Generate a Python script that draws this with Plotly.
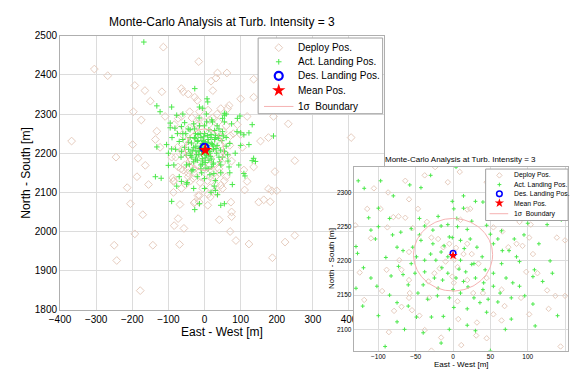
import numpy as np
import plotly.graph_objects as go

# ---------------- data: main plot ----------------
main_deploy_x = [-305,-268,-114,-16,62,-193,-165,-118,-150,-197,-175,-368,-245,-199,-184,-164,-187,-155,-214,
                 136,165,136,100,68,64,118,191,232,250,406,155,177,195,136,109,118,18,32,36,23,-64,-59,-45,-27,
                 -20,-14,-41,-64,-84,-109,-132,-136,-123,-73,-91,-73,-59,-45,-32,-86,45,91,100,105,
                 -205,-171,-193,-250,-143,-243,-178,-68,-73,-84,-57,-69,-27,-18,-88,
                 16,-14,9,-15,-29,41,73,75,75,71,87,123,111,150,164,182,186,200,188,223,250,16,32,-86,-64,177,10,45,
                 -50,-40,-30,-60,-20,0,25,45,55,40,15,-10,-45,-65,-70,-35,10,35,60,70,
                 75,60,30,-5,-30,-15,10,25,15,-20,-35,35,0,-5,20,-25,-80,80,-85,50,
                 -55,-48,-38,-58,42,52,48,30,-12,8,-42,38,22,-22,62,-62,5,-8,14,-16,
                 -75,72,-52,55,-28,28,-45,45,-18,18]
main_deploy_y = [2415,2398,2471,2434,2405,2373,2360,2357,2333,2306,2285,2231,2190,2222,2187,2169,2140,2120,2112,
                 2389,2397,2343,2339,2322,2314,2294,2294,2275,2181,2240,2231,2240,2153,2165,2157,2128,2384,2392,2405,2360,2365,2357,2351,2343,
                 2335,2306,2306,2294,2273,2294,2256,2235,2215,2289,2190,2165,2157,2149,2136,2128,2314,2273,2248,2215,
                 2071,2043,1994,1965,1965,1926,1849,2069,2033,2015,2008,1967,2075,2092,2137,
                 2088,2092,2067,2075,2073,2030,2075,2050,2038,2000,1977,1968,2106,2075,2081,2076,2104,2104,1933,1973,1990,2112,2100,2100,2110,2109,2095,2118,
                 2230,2180,2150,2200,2270,2280,2265,2240,2200,2160,2140,2140,2140,2160,2260,2290,2310,2300,2270,2220,
                 2180,2140,2120,2110,2190,2240,2250,2200,2170,2170,2230,2210,2225,2190,2230,2205,2190,2250,2130,2110,
                 2170,2160,2130,2245,2150,2255,2175,2140,2125,2130,2265,2280,2290,2275,2195,2210,2160,2262,2285,2290,
                 2215,2245,2120,2130,2160,2150,2195,2222,2210,2185]

main_land_x = [-168,-132,-123,-91,-77,-95,-27,7,9,-14,55,50,91,132,100,123,191,136,141,112,68,77,27,-136,-120,
               -132,-105,-82,-64,-91,-100,-64,-91,-27,-14,55,36,18,-50,-77,132,109,45,109,123,98,55,
               -60,-45,-30,-15,5,20,35,50,60,70,-70,-55,-40,-25,-10,10,25,40,55,65,
               -50,-35,-20,0,15,30,45,-65,-80,-75,-20,-10,0,10,20,30,-30,-15,5,15,
               25,35,-5,-25,40,-40,-5,20,-35,45,-12,8,-8,12,-18,18,-28,28,-45,48,
               -55,55,-85,85,-90,90,-5,0,70,-70,-100,100,-60,60,30,-30,95,-95,75,-48,
               -3,3,-6,6,-2,2,-14,14,-22,22,
               -8,6,-4,10,-16,16,-24,24,-2,2,-34,34,-12,12,-20,20,-40,40,-50,50,
               0,-6,28,-28,8,-42,42,-60,60,0,
               -36,-30,-26,-18,-10,-4,4,12,18,26,32,38,-38,-32,-14,-6,6,14,22,30,
               -44,-8,44,-52,52,-64,64,-24,24,2]
main_land_y = [2484,2321,2306,2318,2297,2277,2365,2339,2331,2318,2302,2289,2289,2273,2252,2252,2244,2187,2179,2142,2165,2120,2116,2140,2136,
               2216,2222,2264,2268,2211,2169,2128,2077,2056,2071,2071,2094,2100,2121,2116,2181,2148,2067,2247,2222,2295,2297,
               2250,2262,2275,2290,2300,2285,2270,2255,2240,2225,2230,2215,2200,2185,2170,2160,2175,2190,2205,2180,
               2170,2155,2140,2135,2145,2130,2150,2190,2210,2250,2230,2240,2250,2235,2225,2240,2215,2205,2195,2200,
               2210,2220,2225,2250,2245,2240,2180,2185,2190,2170,2215,2220,2198,2212,2232,2248,2262,2258,2228,2232,
               2278,2280,2170,2200,2240,2255,2315,2110,2150,2140,2200,2220,2300,2300,2105,2110,2170,2265,2275,2125,
               2205,2215,2225,2195,2230,2188,2212,2205,2196,2222,
               2208,2204,2222,2228,2196,2192,2218,2218,2242,2176,2206,2200,2250,2260,2182,2165,2260,2262,2195,2190,
               2200,2186,2235,2240,2245,2172,2178,2235,2218,2270,
               2226,2178,2238,2248,2160,2232,2162,2182,2240,2148,2212,2238,2194,2158,2270,2172,2280,2205,2280,2246,
               2210,2150,2208,2250,2244,2205,2196,2206,2172,2226]

main_des = (0, 2214)
main_mean = (2, 2208)
main_sigma_center = (0, 2209)
main_sigma_radius = 53

# ---------------- data: inset plot ----------------
ins_deploy_x = [-24,-7,9,-38,-64,-106,-87,-115,-97,-80,-73,-64,-59,-47,-131,-110,-88,-54,-35,-29,-20,-13,-5,
                -125,-89,-95,-119,-72,-59,-69,-59,-58,-59,-79,-69,-55,-45,-86,-29,-38,-32,-33,-25,-18,-10,2,6,-1,1,6,7,
                -16,11,32,31,45,4,14,19,25,34,19,27,40,45,54,66,74,85,102,104,89,93,107,98,113,126,137,128,150,150,139,
                65,69,65,54,102,91,144,45,87,115,19,23,10]
ins_deploy_y = [2337,2315,2330,2325,2317,2306,2300,2276,2276,2264,2265,2263,2290,2276,2252,2233,2249,2248,2257,2234,2232,2220,2225,
                2183,2187,2156,2143,2201,2213,2187,2172,2153,2146,2127,2133,2128,2120,2096,2069,2099,2146,2170,2182,2189,2199,2202,2191,2177,2168,2141,2115,
                2088,2077,2110,2091,2087,2219,2210,2225,2210,2196,2172,2153,2153,2175,2249,2243,2220,2225,2234,2253,2257,2222,2210,2184,2182,2157,2149,2130,2149,2230,2234,
                2158,2134,2113,2122,2122,2146,2075,2315,2291,2282,2275,2276,2260]

ins_land_x = [-127,-119,-97,-58,-43,4,14,-1,30,1,14,40,54,72,-100,-113,-100,-130,-128,-75,-67,-56,-38,-27,-16,-7,6,19,
              -54,-43,-27,-16,-12,-1,10,23,32,39,50,54,65,66,82,85,89,65,54,43,28,17,10,-7,-23,-38,-49,-56,-73,-83,-67,-51,
              -38,-25,-14,-7,4,14,30,41,54,71,80,89,107,133,109,78,96,63,28,10,-5,-21,-34,-47,-60,-75,-102,-121,-75,-49,-29,-13,
              1,19,36,47,19,-16,-91,50,45,78,107,126,-104,-81,
              -85,-70,-45,-20,5,25,45,60,75,95,115,130,120,-120,-110,-90,-60,-40,-20,0,
              20,40,60,-85,-100,-65,-40,-5,30,70,110,140,-130,-15,8,-30,25,-5,15,-45,
              100,125,-80,-30,60,-110,145,100]
ins_land_y = [2317,2306,2317,2311,2307,2337,2295,2287,2287,2276,2277,2286,2270,2273,2277,2263,2250,2221,2211,2220,2215,2247,2251,2245,2251,2253,2250,2246,
              2220,2230,2225,2213,2222,2234,2230,2232,2220,2206,2239,2225,2244,2215,2232,2206,2199,2196,2182,2187,2196,2184,2201,2206,2201,2201,2206,2196,2192,2178,2180,2182,
              2184,2175,2172,2182,2175,2170,2175,2168,2163,2175,2168,2163,2177,2182,2187,2146,2149,2153,2146,2153,2146,2149,2144,2153,2134,2139,2163,2134,2111,2118,2118,2119,
              2132,2130,2139,2144,2106,2080,2075,2069,2125,2115,2137,2253,2232,2238,
              2262,2242,2262,2265,2262,2258,2252,2232,2215,2238,2225,2200,2170,2190,2175,2205,2165,2165,2160,2158,
              2162,2158,2140,2150,2120,2100,2095,2100,2098,2100,2105,2120,2160,2190,2188,2210,2195,2235,2218,2238,
              2290,2300,2295,2325,2320,2245,2260,2255]

ins_des = (0, 2211)
ins_mean = (0, 2208)
ins_sigma_center = (0, 2209)
ins_sigma_radius = 53

legend_labels = ["Deploy Pos.", "Act. Landing Pos.", "Des. Landing Pos.", "Mean Pos.", "1\u03c3\u00a0 Boundary"]

# ---------------- styles ----------------
FONT = "Liberation Sans, Arial, sans-serif"
C_DEP = "rgb(230,204,190)"
C_LAND = "rgb(75,232,75)"
C_SIG = "rgb(245,178,178)"
C_AX = "rgb(175,175,175)"
C_LEG = "rgb(160,160,160)"
C_GRID = "rgb(220,220,220)"
W, H = 570, 376

# pixel boxes (layout)
main_px_x = [50, 380]; main_px_y = [31.7, 314]
ins_px_x = [349.5, 568]; ins_px_y = [167, 356]
main_xr = [-400, 496]; main_yr = [1800, 2500]
ins_xr = [-133, 154]; ins_yr = [2069, 2337]


def circle(center, r):
    t = np.linspace(0, 2 * np.pi, 200)
    return center[0] + r * np.cos(t), center[1] + r * np.sin(t)


def to_data(pxx, pxy, bx, by, xr, yr):
    """convert a pixel position (layout) into data coordinates of an axis"""
    dx = xr[0] + (pxx - bx[0]) * (xr[1] - xr[0]) / (bx[1] - bx[0])
    dy = yr[1] - (pxy - by[0]) * (yr[1] - yr[0]) / (by[1] - by[0])
    return dx, dy


fig = go.Figure()


def sym_traces(s):
    return dict(
        dep=dict(symbol="diamond-open", size=6 * s, color=C_DEP, line=dict(width=1, color=C_DEP)),
        land=dict(symbol="cross-thin-open", size=4 * s, color=C_LAND, line=dict(width=1, color=C_LAND)),
        des=dict(symbol="circle-open", size=8 * s, color="blue", line=dict(width=2.2 * s, color="blue")),
        mean=dict(symbol="star", size=10 * s, color="red", line=dict(width=0)),
    )


def add_set(xa, ya, dep_x, dep_y, land_x, land_y, des, mean, sc, sr, s):
    m = sym_traces(s)
    cx, cy = circle(sc, sr)
    fig.add_trace(go.Scatter(x=dep_x, y=dep_y, mode="markers", xaxis=xa, yaxis=ya, showlegend=False, marker=m["dep"]))
    fig.add_trace(go.Scatter(x=land_x, y=land_y, mode="markers", xaxis=xa, yaxis=ya, showlegend=False, marker=m["land"]))
    fig.add_trace(go.Scatter(x=cx, y=cy, mode="lines", xaxis=xa, yaxis=ya, showlegend=False,
                             line=dict(color=C_SIG, width=1)))
    fig.add_trace(go.Scatter(x=[des[0]], y=[des[1]], mode="markers", xaxis=xa, yaxis=ya, showlegend=False, marker=m["des"]))
    fig.add_trace(go.Scatter(x=[mean[0]], y=[mean[1]], mode="markers", xaxis=xa, yaxis=ya, showlegend=False, marker=m["mean"]))


def add_legend(xa, ya, box, bx, by, xr, yr, sym_px, line_px, text_px, rows, s, fsize):
    conv = lambda a, b: to_data(a, b, bx, by, xr, yr)
    (x0, y0), (x1, y1) = conv(box[0], box[1]), conv(box[2], box[3])
    fig.add_trace(go.Scatter(x=[x0, x1, x1, x0, x0], y=[y0, y0, y1, y1, y0], mode="lines", fill="toself",
                             fillcolor="white", line=dict(color=C_LEG, width=1), xaxis=xa, yaxis=ya,
                             showlegend=False, hoverinfo="skip"))
    m = sym_traces(s)
    for key, r in zip(["dep", "land", "des", "mean"], rows[:4]):
        sx, sy = conv(sym_px, r)
        fig.add_trace(go.Scatter(x=[sx], y=[sy], mode="markers", xaxis=xa, yaxis=ya, showlegend=False, marker=m[key]))
    (lx0, ly), (lx1, _) = conv(line_px[0], rows[4]), conv(line_px[1], rows[4])
    fig.add_trace(go.Scatter(x=[lx0, lx1], y=[ly, ly], mode="lines", xaxis=xa, yaxis=ya, showlegend=False,
                             line=dict(color=C_SIG, width=1)))
    for lab, r in zip(legend_labels, rows):
        tx, ty = conv(text_px, r)
        fig.add_annotation(x=tx, y=ty, xref=xa, yref=ya, text=lab, showarrow=False,
                           xanchor="left", yanchor="middle", font=dict(size=fsize, color="black", family=FONT))


add_set("x", "y", main_deploy_x, main_deploy_y, main_land_x, main_land_y, main_des, main_mean,
        main_sigma_center, main_sigma_radius, 1.0)
add_legend("x", "y", [252, 34, 379, 112], main_px_x, main_px_y, main_xr, main_yr,
           273, [258, 288], 291, [44, 58.5, 73, 88, 104.5], 1.0, 10)

add_set("x2", "y2", ins_deploy_x, ins_deploy_y, ins_land_x, ins_land_y, ins_des, ins_mean,
        ins_sigma_center, ins_sigma_radius, 0.7)
add_legend("x2", "y2", [484, 169, 568, 222], ins_px_x, ins_px_y, ins_xr, ins_yr,
           498, [488, 507], 510.5, [175.5, 185, 194.5, 204, 215], 0.7, 6.8)

# ---------------- layout ----------------
def dom_x(a): return [a[0] / W, a[1] / W]
def dom_y(a): return [1 - a[1] / H, 1 - a[0] / H]

axis_common = dict(showline=True, mirror=True, linecolor=C_AX, linewidth=1, gridcolor=C_GRID,
                   zeroline=False, ticks="", fixedrange=True)

fig.update_layout(
    width=W, height=H, margin=dict(l=0, r=0, t=0, b=0),
    paper_bgcolor="white", plot_bgcolor="white", showlegend=False,
    font=dict(family=FONT, color="black"),
    xaxis=dict(domain=dom_x(main_px_x), range=main_xr, dtick=100, tick0=0, anchor="y",
               tickfont=dict(size=10), **axis_common),
    yaxis=dict(domain=dom_y(main_px_y), range=main_yr, dtick=100, tick0=0, anchor="x",
               tickfont=dict(size=10), **axis_common),
    xaxis2=dict(domain=dom_x(ins_px_x), range=ins_xr, dtick=50, tick0=0, anchor="y2",
                tickfont=dict(size=6.5), **axis_common),
    yaxis2=dict(domain=dom_y(ins_px_y), range=ins_yr, dtick=50, tick0=0, anchor="x2",
                tickfont=dict(size=6.5), **axis_common),
)


def ann(x, y, text, size, angle=0):
    fig.add_annotation(x=x / W, y=1 - y / H, xref="paper", yref="paper", text=text, showarrow=False,
                       xanchor="center", yanchor="middle", textangle=angle,
                       font=dict(size=size, color="black", family=FONT))


ann(215, 18, "Monte-Carlo Analysis at Turb. Intensity = 3", 12)
ann(215, 337, "East - West [m]", 12)
ann(15, 173, "North - South [m]", 12, -90)
ann(458.5, 159, "Monte-Carlo Analysis at Turb. Intensity = 3", 8)
ann(459, 370, "East - West [m]", 8)
ann(327, 261, "North - South [m]", 8, -90)

fig.write_html("out.html")
